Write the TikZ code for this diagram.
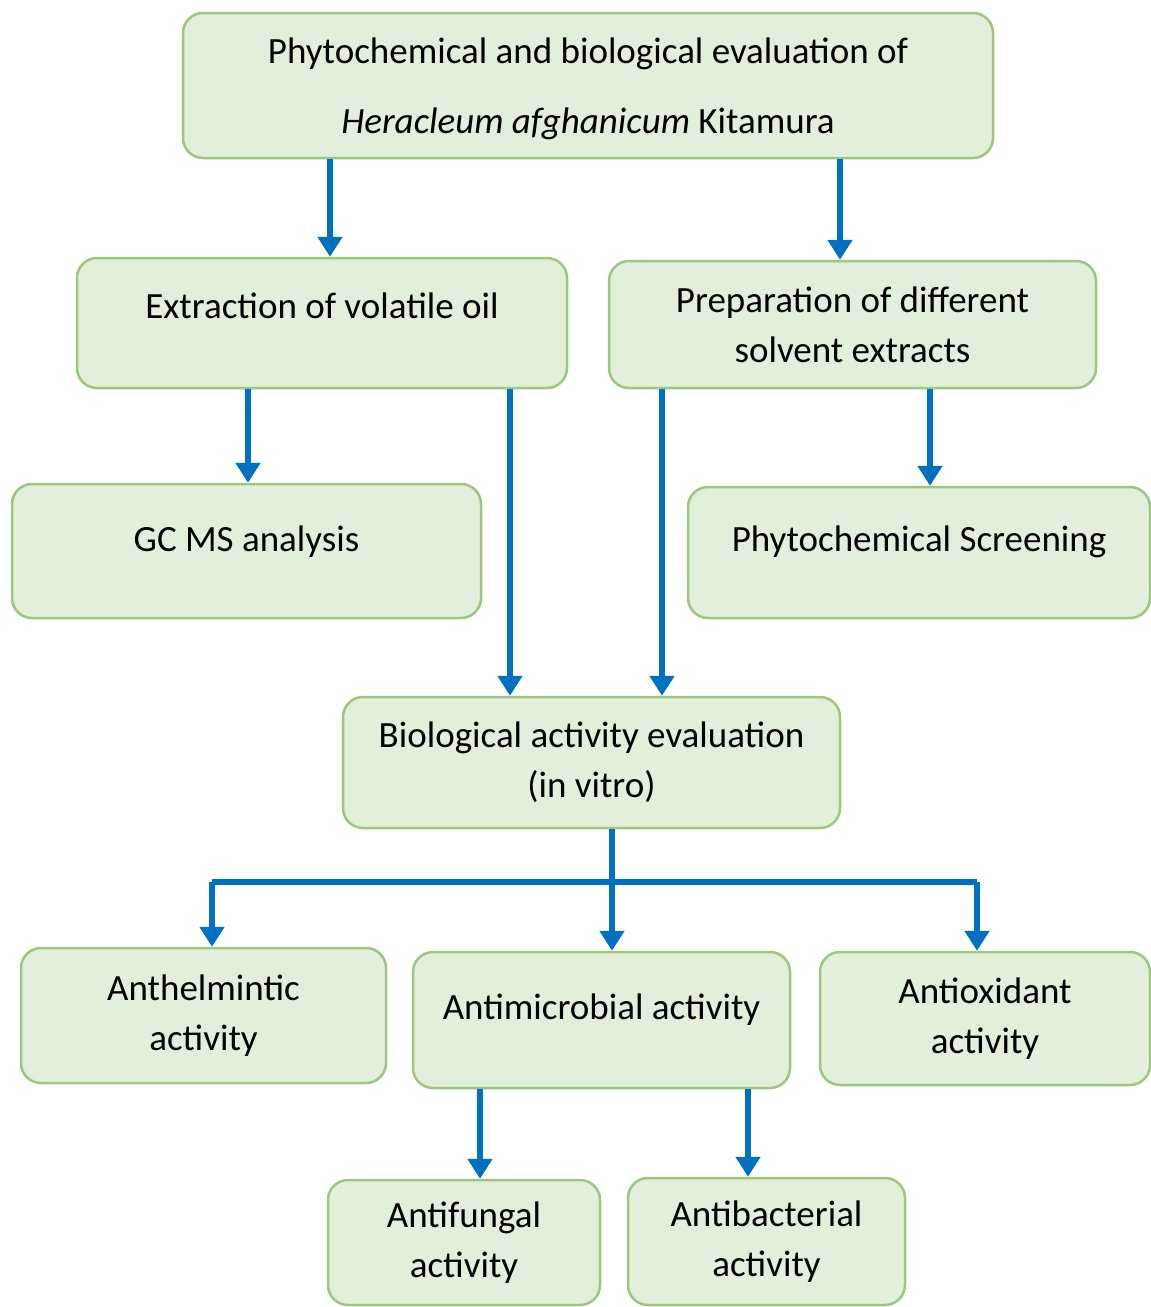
\documentclass[tikz,border=0pt]{standalone}
\usepackage{fontspec}
\setmainfont{Carlito}
\usetikzlibrary{arrows.meta}
\definecolor{boxfill}{HTML}{E2EFDA}
\definecolor{boxline}{HTML}{9DC77E}
\definecolor{arrblue}{HTML}{0070C0}
\tikzset{
  box/.style={draw=boxline, fill=boxfill, line width=2.5pt, rounded corners=20pt,
    align=center, inner sep=0pt, font=\fontsize{37}{50}\selectfont},
  lift/.style={text height=26pt, text depth=#1},
  conn/.style={draw=arrblue, line width=6.5pt},
  arr/.style={conn, -{Triangle[length=20pt,width=24pt]}}
}
\begin{document}
\begin{tikzpicture}[x=1pt,y=-1pt]
\useasboundingbox (0,0) rectangle (1151,1307);
\fill[white] (0,0) rectangle (1151,1307);

\node[box, minimum width=810pt, minimum height=145pt, text depth=0pt] (top) at (588,85.5)
  {Phytochemical and biological evaluation of\\[20pt] \textit{Heracleum afghanicum} Kitamura};
\node[box, minimum width=490pt, minimum height=130pt, lift=35pt] (ext) at (322,323) {Extraction of volatile oil};
\node[box, minimum width=487pt, minimum height=127pt] (prep) at (852.5,324.5) {Preparation of different\\solvent extracts};
\node[box, minimum width=469pt, minimum height=134pt, lift=25pt] (gc) at (246.5,551) {GC MS analysis};
\node[box, minimum width=462pt, minimum height=131pt, lift=29pt] (scr) at (919,552.5) {Phytochemical Screening};
\node[box, minimum width=497pt, minimum height=131pt] (bio) at (591.5,762.5) {Biological activity evaluation\\(in vitro)};
\node[box, minimum width=365pt, minimum height=135pt] (anth) at (203.5,1015.5) {Anthelmintic\\activity};
\node[box, minimum width=377pt, minimum height=136pt, lift=27pt] (amic) at (601.5,1020) {Antimicrobial activity};
\node[box, minimum width=330pt, minimum height=133pt] (aox) at (985,1018.5) {Antioxidant\\activity};
\node[box, minimum width=272pt, minimum height=125pt] (afun) at (464,1242.5) {Antifungal\\activity};
\node[box, minimum width=277pt, minimum height=127pt] (abac) at (766.5,1241.5) {Antibacterial\\activity};

\coordinate (x1) at (330,0);
\coordinate (x2) at (840,0);
\coordinate (x3) at (248,0);
\coordinate (x4) at (510,0);
\coordinate (x5) at (662,0);
\coordinate (x6) at (930,0);
\coordinate (x7) at (212,0);
\coordinate (x8) at (977,0);
\coordinate (x9) at (480,0);
\coordinate (x10) at (748,0);
\coordinate (bj) at (612,882);

\draw[arr] (top.south -| x1) -- (ext.north -| x1);
\draw[arr] (top.south -| x2) -- (prep.north -| x2);
\draw[arr] (ext.south -| x3) -- (gc.north -| x3);
\draw[arr] (ext.south -| x4) -- (bio.north -| x4);
\draw[arr] (prep.south -| x5) -- (bio.north -| x5);
\draw[arr] (prep.south -| x6) -- (scr.north -| x6);
\draw[conn] (bio.south -| bj) -- (bj);
\draw[conn] (bj -| x7) -- (bj -| x8);
\draw[arr] (bj) -- (amic.north -| bj);
\draw[arr] (bj -| x7) -- (anth.north -| x7);
\draw[arr] (bj -| x8) -- (aox.north -| x8);
\draw[arr] (amic.south -| x9) -- (afun.north -| x9);
\draw[arr] (amic.south -| x10) -- (abac.north -| x10);
\end{tikzpicture}
\end{document}
